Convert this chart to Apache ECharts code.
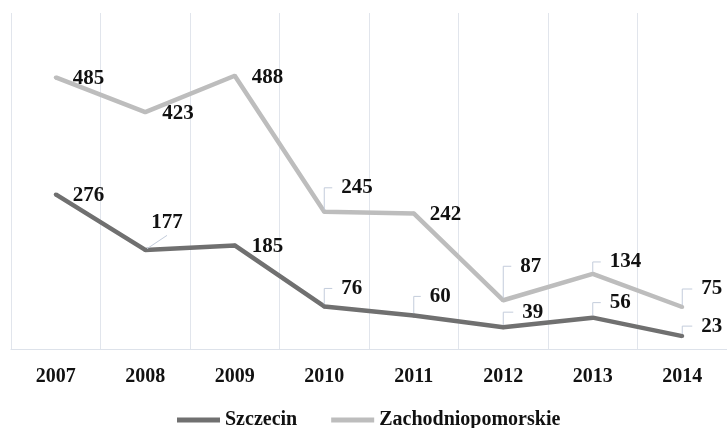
<!DOCTYPE html>
<html>
<head>
<meta charset="utf-8">
<script src="https://cdn.jsdelivr.net/npm/echarts@6/dist/echarts.min.js"></script>
<style>html,body{margin:0;padding:0;background:#fff;}#c{width:727px;height:428px;}</style>
</head>
<body>
<div id="c"></div>
<script>
// ---- data ----
const years = ['2007', '2008', '2009', '2010', '2011', '2012', '2013', '2014'];
const szczecin = [276, 177, 185, 76, 60, 39, 56, 23];
const zachodniopomorskie = [485, 423, 488, 245, 242, 87, 134, 75];
const seriesNames = ['Szczecin', 'Zachodniopomorskie'];

// ---- label placement (layout only) ----
// [dx, dy, leaderType] leaderType: 0 none, 1 elbow leader, 2 straight leader
const labelPlace = [
  [[0,1,0],[-11,-27,2],[0,1,0],[0,-18,1],[-1,-19,1],[2,-15,1],[0,-15,1],[2,-10,1]],
  [[0,1,0],[0,1,0],[0,2,0],[0,-24,1],[-1,1,0],[0,-34,1],[0,-12,1],[2,-18,1]]
];

const FONT = 'Liberation Serif, Times New Roman, serif';
const colors = ['#707070', '#bdbdbd'];
const leaderColor = '#c3ccdb';

function buildData(values, si) {
  return values.map((v, i) => {
    const p = labelPlace[si][i];
    const item = { value: v };
    if (p[2] === 1) {
      item.label = { padding: [0, 24, 0, 9], backgroundColor: 'rgba(255,255,255,0)' };
      item.labelLine = { show: true, length2: 8 + p[0], lineStyle: { color: leaderColor, width: 1 } };
    } else if (p[2] === 2) {
      item.label = { padding: [0, 0, 4, 0], backgroundColor: 'rgba(255,255,255,0)' };
      item.labelLine = { show: true, length2: 0, lineStyle: { color: leaderColor, width: 1 } };
    }
    return item;
  });
}

function makeSeries(name, values, si) {
  return {
    name: name,
    type: 'line',
    data: buildData(values, si),
    symbol: 'circle',
    symbolSize: 4,
    showSymbol: true,
    color: colors[si],
    itemStyle: { color: colors[si] },
    lineStyle: { color: colors[si], width: 4.5 },
    label: {
      show: true,
      position: 'right',
      distance: 15,
      color: '#111',
      fontFamily: FONT,
      fontWeight: 'bold',
      fontSize: 21
    },
    labelLayout: function (params) {
      const p = labelPlace[si][params.dataIndex];
      let dx = p[0];
      if (p[2] === 1) dx = p[0] - 9;
      return { dx: dx, dy: p[1] };
    },
    emphasis: { disabled: true },
    z: si === 0 ? 3 : 2
  };
}

const chart = echarts.init(document.getElementById('c'), null, { renderer: 'canvas' });
chart.setOption({
  animation: false,
  backgroundColor: '#fff',
  grid: { left: 11, right: -2, top: 13, bottom: 79, containLabel: false },
  xAxis: {
    type: 'category',
    data: years,
    boundaryGap: true,
    axisTick: { show: false },
    axisLine: { show: true, lineStyle: { color: '#dde2ea', width: 1 } },
    splitLine: { show: true, lineStyle: { color: '#e1e5ec', width: 1 } },
    axisLabel: { color: '#111', fontFamily: FONT, fontWeight: 'bold', fontSize: 20, margin: 18 }
  },
  yAxis: {
    type: 'value',
    min: 0,
    max: 600,
    interval: 100,
    show: false,
    splitLine: { show: false }
  },
  legend: {
    left: 172,
    top: 405,
    itemWidth: 43,
    itemHeight: 5,
    itemGap: 34,
    data: [
      { name: seriesNames[0], icon: 'rect' },
      { name: seriesNames[1], icon: 'rect' }
    ],
    textStyle: { color: '#111', fontFamily: FONT, fontWeight: 'bold', fontSize: 20 }
  },
  series: [
    makeSeries(seriesNames[0], szczecin, 0),
    makeSeries(seriesNames[1], zachodniopomorskie, 1)
  ]
});
</script>
</body>
</html>
